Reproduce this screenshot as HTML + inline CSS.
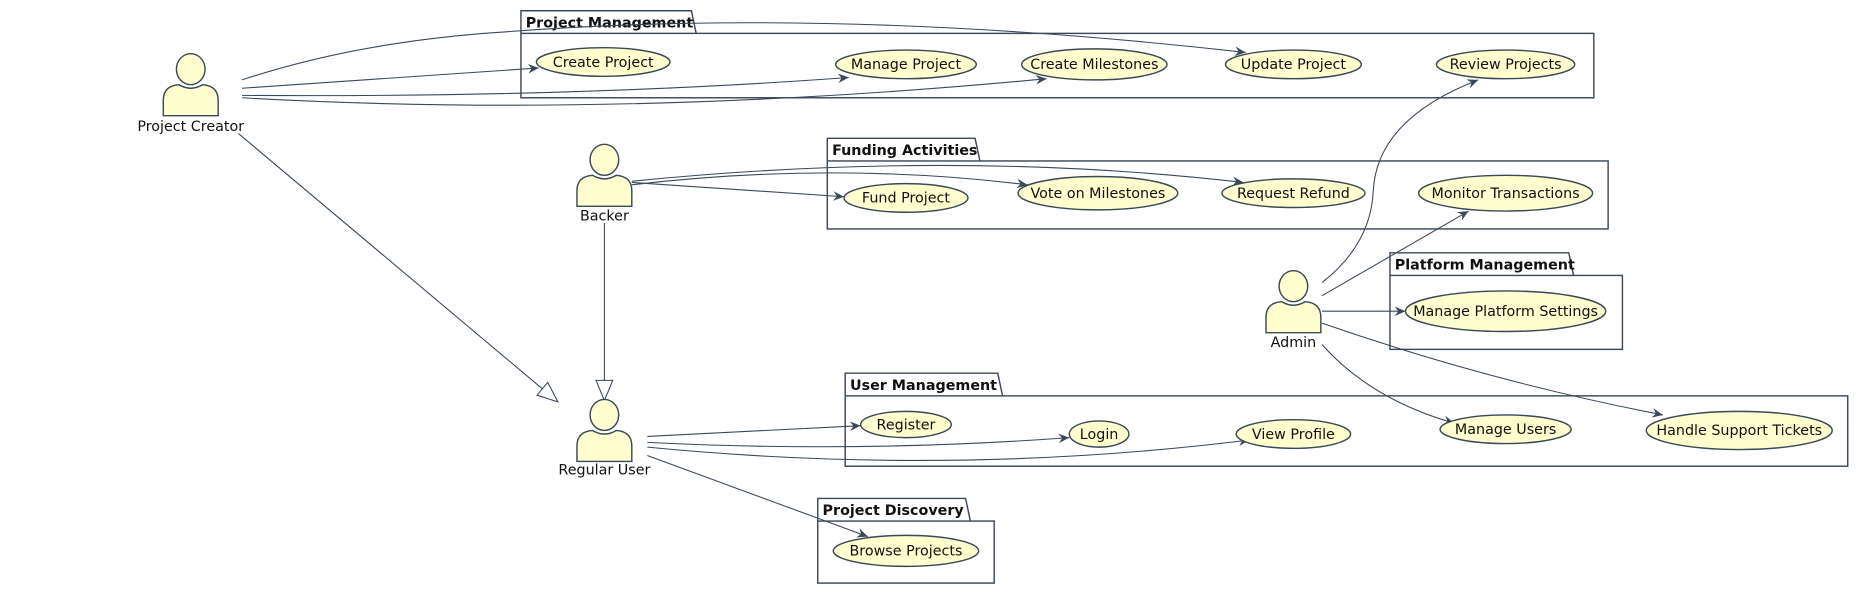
<!DOCTYPE html>
<html><head><meta charset="utf-8"><style>
html,body{margin:0;padding:0;background:#fff;}
svg{display:block;}
text{font-family:"DejaVu Sans","Liberation Sans",sans-serif;font-size:12px;fill:#111;}
.t{font-weight:bold;font-size:12px;}
.e{fill:#fefece;stroke:#3a4858;stroke-width:1.2;}
.f{fill:none;stroke:#3a4858;stroke-width:1.2;}
.l{fill:none;stroke:#3a4858;stroke-width:0.9;}
</style></head><body>
<svg width="1868" height="595" viewBox="0 0 1567 499" preserveAspectRatio="none" xmlns="http://www.w3.org/2000/svg">
<defs>
<marker id="a" markerWidth="10" markerHeight="10" refX="9" refY="5" orient="auto" markerUnits="userSpaceOnUse">
<path d="M0,1 L9,5 L0,9 L3,5 Z" fill="#3a4858"/></marker>
<marker id="h" markerWidth="20" markerHeight="20" refX="18" refY="10" orient="auto" markerUnits="userSpaceOnUse">
<path d="M1,3 L18,10 L1,17 Z" fill="#fff" stroke="#3a4858" stroke-width="0.9"/></marker>
</defs>

<g class="f">
<path d="M437,28 V9 H580 L584,28"/><rect x="437" y="28" width="900" height="54"/>
<path d="M694,135 V116 H818 L822,135"/><rect x="694" y="135" width="655" height="57"/>
<path d="M1166,231 V212 H1316 L1320,231"/><rect x="1166" y="231" width="195" height="62"/>
<path d="M709,332 V313 H837 L841,332"/><rect x="709" y="332" width="841" height="59"/>
<path d="M686,437 V418 H810 L814,437"/><rect x="686" y="437" width="148" height="52"/>
</g>
<text class="t" x="441" y="23">Project Management</text>
<text class="t" x="698" y="130">Funding Activities</text>
<text class="t" x="1170" y="226">Platform Management</text>
<text class="t" x="713" y="327">User Management</text>
<text class="t" x="690" y="432">Project Discovery</text>

<g class="l">
<path d="M203,67 Q300,35 420,27 Q700,5 1045,44" marker-end="url(#a)"/>
<path d="M203,74 L452,57" marker-end="url(#a)"/>
<path d="M203,80 Q480,82 712,65" marker-end="url(#a)"/>
<path d="M203,82 Q520,100 878,66" marker-end="url(#a)"/>
<path d="M200,112 L468,337" marker-end="url(#h)"/>
<path d="M530,153 L708,165" marker-end="url(#a)"/>
<path d="M530,155 Q700,135 862,155" marker-end="url(#a)"/>
<path d="M530,152 Q800,125 1043,153" marker-end="url(#a)"/>
<path d="M507,187 L507,336" marker-end="url(#h)"/>
<path d="M1109,237 Q1150,205 1152,160 Q1155,100 1240,67" marker-end="url(#a)"/>
<path d="M1109,248 L1232,177" marker-end="url(#a)"/>
<path d="M1109,261 L1179,261" marker-end="url(#a)"/>
<path d="M1109,271 Q1250,320 1395,348" marker-end="url(#a)"/>
<path d="M1109,289 Q1150,335 1220,355" marker-end="url(#a)"/>
<path d="M543,366 L722,357" marker-end="url(#a)"/>
<path d="M543,371 Q720,380 897,367" marker-end="url(#a)"/>
<path d="M543,375 Q800,400 1048,369" marker-end="url(#a)"/>
<path d="M543,382 L728,450" marker-end="url(#a)"/>
</g>

<g text-anchor="middle">
<ellipse class="e" cx="506" cy="52" rx="56" ry="12"/><text x="506" y="56">Create Project</text>
<ellipse class="e" cx="760" cy="54" rx="59" ry="12"/><text x="760" y="58">Manage Project</text>
<ellipse class="e" cx="918" cy="54" rx="61" ry="13"/><text x="918" y="58">Create Milestones</text>
<ellipse class="e" cx="1085" cy="54" rx="57" ry="12"/><text x="1085" y="58">Update Project</text>
<ellipse class="e" cx="1263" cy="54" rx="58" ry="12"/><text x="1263" y="58">Review Projects</text>
<ellipse class="e" cx="760" cy="166" rx="52" ry="12"/><text x="760" y="170">Fund Project</text>
<ellipse class="e" cx="921" cy="162" rx="67" ry="14"/><text x="921" y="166">Vote on Milestones</text>
<ellipse class="e" cx="1085" cy="162" rx="60" ry="12"/><text x="1085" y="166">Request Refund</text>
<ellipse class="e" cx="1263" cy="162" rx="73" ry="15"/><text x="1263" y="166">Monitor Transactions</text>
<ellipse class="e" cx="1263" cy="261" rx="84" ry="17"/><text x="1263" y="265">Manage Platform Settings</text>
<ellipse class="e" cx="760" cy="356" rx="38" ry="11"/><text x="760" y="360">Register</text>
<ellipse class="e" cx="922" cy="364" rx="25" ry="11"/><text x="922" y="368">Login</text>
<ellipse class="e" cx="1085" cy="364" rx="48" ry="12"/><text x="1085" y="368">View Profile</text>
<ellipse class="e" cx="1263" cy="360" rx="55" ry="12"/><text x="1263" y="364">Manage Users</text>
<ellipse class="e" cx="1459" cy="361" rx="78" ry="16"/><text x="1459" y="365">Handle Support Tickets</text>
<ellipse class="e" cx="760" cy="462" rx="61" ry="13"/><text x="760" y="466">Browse Projects</text>
</g>

<g text-anchor="middle">
<g transform="translate(160,0)">
<ellipse class="e" cx="0" cy="58" rx="12" ry="13"/>
<path class="e" d="M-23,97 V84 Q-23,72 -10,71 Q0,77 10,71 Q23,72 23,84 V97 Z"/>
<text x="0" y="110">Project Creator</text></g>
<g transform="translate(507,76)">
<ellipse class="e" cx="0" cy="58" rx="12" ry="13"/>
<path class="e" d="M-23,97 V84 Q-23,72 -10,71 Q0,77 10,71 Q23,72 23,84 V97 Z"/>
<text x="0" y="109">Backer</text></g>
<g transform="translate(1085,182)">
<ellipse class="e" cx="0" cy="58" rx="12" ry="13"/>
<path class="e" d="M-23,97 V84 Q-23,72 -10,71 Q0,77 10,71 Q23,72 23,84 V97 Z"/>
<text x="0" y="109">Admin</text></g>
<g transform="translate(507,290)">
<ellipse class="e" cx="0" cy="58" rx="12" ry="13"/>
<path class="e" d="M-23,97 V84 Q-23,72 -10,71 Q0,77 10,71 Q23,72 23,84 V97 Z"/>
<text x="0" y="108">Regular User</text></g>
</g>
</svg>
</body></html>
